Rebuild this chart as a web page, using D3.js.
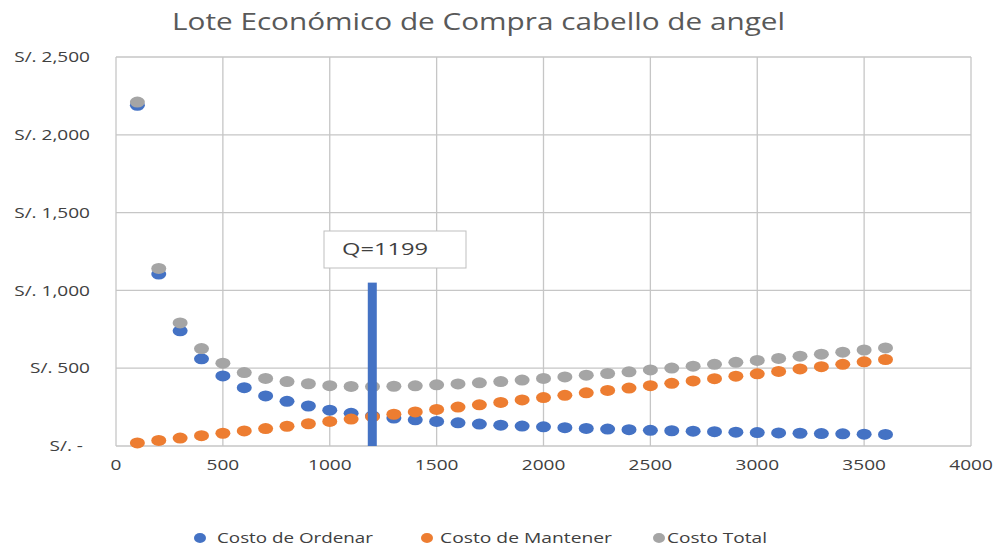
<!DOCTYPE html>
<html>
<head>
<meta charset="utf-8">
<script src="https://cdn.jsdelivr.net/npm/d3@7"></script>
<style>
  body { margin: 0; background: #fff; }
  svg { display: block; font-family: "Open Sans", "Liberation Sans", sans-serif; }
</style>
</head>
<body>
<div id="chart"></div>
<script>
// lot sizes (Q)
const lotes = [100, 200, 300, 400, 500, 600, 700, 800, 900, 1000, 1100, 1200,
  1300, 1400, 1500, 1600, 1700, 1800, 1900, 2000, 2100, 2200, 2300, 2400,
  2500, 2600, 2700, 2800, 2900, 3000, 3100, 3200, 3300, 3400, 3500, 3600];

const costoOrdenar = [2190, 1105, 740, 560, 450, 375, 322, 287, 257, 230, 210, 193,
  180, 168, 158, 149, 141, 134, 128, 123, 118, 113, 109, 105,
  101, 98, 95, 92, 89, 86, 84, 82, 80, 78, 76, 74];

const costoMantener = [20, 36, 51, 66, 82, 97, 112, 127, 143, 158, 173, 189,
  204, 219, 235, 250, 265, 280, 296, 311, 326, 342, 357, 372,
  388, 403, 418, 433, 449, 464, 479, 495, 510, 525, 541, 556];

const costoTotal = [2210, 1141, 791, 626, 532, 472, 434, 414, 400, 388, 383, 382,
  384, 387, 393, 399, 406, 414, 424, 434, 444, 455, 466, 477,
  489, 501, 513, 525, 538, 550, 563, 577, 590, 603, 617, 630];

const loteOptimo = 1199;
const barraAltura = 1050;

const yTicks = [0, 500, 1000, 1500, 2000, 2500];
const xTicks = [0, 500, 1000, 1500, 2000, 2500, 3000, 3500, 4000];

const series = [
  {name: "Costo de Ordenar", values: costoOrdenar, color: "#4472C4"},
  {name: "Costo de Mantener", values: costoMantener, color: "#ED7D31"},
  {name: "Costo Total", values: costoTotal, color: "#A5A5A5"}
];

const width = 995, height = 546;
const margin = {top: 57, right: 24, bottom: 100, left: 116};
const sx = 1.27; // the text in the original is stretched sideways

const x = d3.scaleLinear().domain([0, 4000]).range([margin.left, width - margin.right]);
const y = d3.scaleLinear().domain([0, 2500]).range([height - margin.bottom, margin.top]);

const fmt = v => v === 0 ? "S/. -" : "S/. " + d3.format(",")(v);

const svg = d3.select("#chart").append("svg")
  .attr("width", width)
  .attr("height", height);

// title
svg.append("text")
  .attr("x", 172)
  .attr("y", 30)
  .attr("font-size", 23)
  .attr("fill", "#595959")
  .attr("textLength", 613)
  .attr("lengthAdjust", "spacingAndGlyphs")
  .text("Lote Económico de Compra cabello de angel");

// grid
const grid = svg.append("g").attr("stroke", "#c6c6c6").attr("stroke-width", 1.3);
grid.selectAll("line.h")
  .data(yTicks)
  .join("line")
  .attr("class", "h")
  .attr("x1", margin.left).attr("x2", width - margin.right)
  .attr("y1", d => y(d)).attr("y2", d => y(d));
grid.selectAll("line.v")
  .data(xTicks)
  .join("line")
  .attr("class", "v")
  .attr("y1", margin.top).attr("y2", height - margin.bottom)
  .attr("x1", d => x(d)).attr("x2", d => x(d));

// axes labels
svg.append("g")
  .attr("font-size", 15)
  .attr("fill", "#404040")
  .attr("text-anchor", "end")
  .selectAll("text")
  .data(yTicks)
  .join("text")
  .attr("transform", d => `translate(${d === 0 ? 83 : 90},${y(d)}) scale(${sx},1)`)
  .attr("dy", "0.35em")
  .text(fmt);

svg.append("g")
  .attr("font-size", 15)
  .attr("fill", "#404040")
  .attr("text-anchor", "middle")
  .selectAll("text")
  .data(xTicks)
  .join("text")
  .attr("transform", d => `translate(${x(d)},${height - margin.bottom + 19}) scale(${sx},1)`)
  .attr("dy", "0.35em")
  .text(d => d);

// points (later series on top, like the original)
series.forEach(s => {
  svg.append("g")
    .attr("fill", s.color)
    .selectAll("ellipse")
    .data(lotes)
    .join("ellipse")
    .attr("cx", d => x(d))
    .attr("cy", (d, i) => y(s.values[i]))
    .attr("rx", 7.5)
    .attr("ry", 5.5);
});

// EOQ bar
svg.append("rect")
  .attr("x", x(loteOptimo) - 4.5)
  .attr("width", 9)
  .attr("y", y(barraAltura))
  .attr("height", y(0) - y(barraAltura))
  .attr("fill", "#4472C4");

// label box
const lbl = svg.append("g").attr("transform", `translate(324,231)`);
lbl.append("rect")
  .attr("width", 142).attr("height", 37)
  .attr("fill", "#fff")
  .attr("stroke", "#bfbfbf");
lbl.append("text")
  .attr("x", 18).attr("y", 24)
  .attr("font-size", 16)
  .attr("fill", "#404040")
  .attr("textLength", 86)
  .attr("lengthAdjust", "spacingAndGlyphs")
  .text("Q=" + loteOptimo);

// legend
const legDot = [200, 427, 659];
const legText = [217, 440, 667];
const legLen = [156, 172, 100];
const leg = svg.append("g").attr("font-size", 15).attr("fill", "#404040");
series.forEach((s, i) => {
  leg.append("ellipse")
    .attr("cx", legDot[i]).attr("cy", 538)
    .attr("rx", 6).attr("ry", 5)
    .attr("fill", s.color);
  leg.append("text")
    .attr("x", legText[i])
    .attr("y", 538)
    .attr("dy", "0.35em")
    .attr("textLength", legLen[i])
    .attr("lengthAdjust", "spacingAndGlyphs")
    .text(s.name);
});
</script>
</body>
</html>
